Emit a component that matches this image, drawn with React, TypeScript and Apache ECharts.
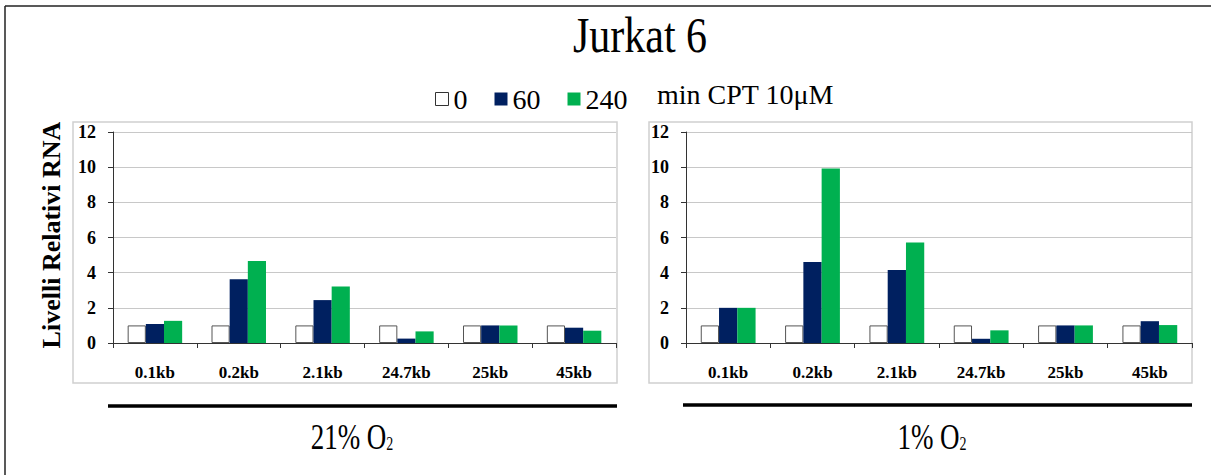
import React, { useEffect, useRef } from "react";
import * as echarts from "echarts";

const categories = ["0.1kb", "0.2kb", "2.1kb", "24.7kb", "25kb", "45kb"];
const seriesNames = ["0", "60", "240"];
const normoxia0 = [1, 1, 1, 1, 1, 1];
const normoxia60 = [1.08, 3.63, 2.44, 0.25, 1.0, 0.87];
const normoxia240 = [1.26, 4.67, 3.21, 0.66, 1.0, 0.7];
const hypoxia0 = [1, 1, 1, 1, 1, 1];
const hypoxia60 = [2.0, 4.6, 4.15, 0.24, 1.0, 1.24];
const hypoxia240 = [2.0, 9.93, 5.72, 0.72, 1.0, 1.02];
const yTicks = { min: 0, max: 12, interval: 2 };
const titleText = "Jurkat 6";
const unitText = "min CPT 10\u03bcM";
const yTitle = "Livelli Relativi RNA";
const panelLabels = ["21% O", "1% O"];

const SERIF = "Liberation Serif";
const COLORS = ["#ffffff", "#002060", "#00b050"];

export default function App() {
  const ref = useRef<HTMLDivElement>(null);
  useEffect(() => {
    if (!ref.current) return;
    const chart = echarts.init(ref.current, null, { renderer: "svg" });

    const grids = [
      { left: 113, top: 132, width: 503, height: 211 },
      { left: 686, top: 132, width: 506, height: 211 },
    ];

    const xAxes = grids.map((_, i) => ({
      type: "category",
      gridIndex: i,
      data: categories,
      axisLine: { lineStyle: { color: "#333", width: 1 } },
      axisTick: { show: true, length: 5, inside: false, lineStyle: { color: "#333" } },
      axisLabel: {
        fontFamily: SERIF,
        fontWeight: "bold",
        fontSize: 17,
        color: "#000",
        margin: 21,
      },
    }));

    const yAxes = grids.map((_, i) => ({
      type: "value",
      gridIndex: i,
      min: yTicks.min,
      max: yTicks.max,
      interval: yTicks.interval,
      axisLine: { show: true, lineStyle: { color: "#333", width: 1 } },
      axisTick: { show: true, length: 5, lineStyle: { color: "#333" } },
      splitLine: { show: true, lineStyle: { color: "#c8c8c8", width: 1.2 } },
      axisLabel: {
        fontFamily: SERIF,
        fontWeight: "bold",
        fontSize: 18,
        color: "#000",
        margin: 17,
      },
    }));

    const panelData = [
      [normoxia0, normoxia60, normoxia240],
      [hypoxia0, hypoxia60, hypoxia240],
    ];

    const series: any[] = [];
    panelData.forEach((sets, gi) => {
      sets.forEach((vals, si) => {
        series.push({
          type: "bar",
          name: seriesNames[si],
          xAxisIndex: gi,
          yAxisIndex: gi,
          data: vals,
          barGap: "0%",
          barCategoryGap: "35%",
          itemStyle: {
            color: COLORS[si],
            borderColor: si === 0 ? "#555" : COLORS[si],
            borderWidth: si === 0 ? 1 : 0,
          },
        });
      });
    });

    const subLabel = (main: string, cx: number) => ({
      type: "text",
      x: cx,
      y: 437,
      scaleY: 1.3,
      style: {
        text: `{a|${main}}{b|2}`,
        align: "center",
        verticalAlign: "middle",
        rich: {
          a: { fontFamily: SERIF, fontSize: 27, fill: "#000", lineHeight: 30 },
          b: { fontFamily: SERIF, fontSize: 14, fill: "#000", lineHeight: 30, padding: [12, 0, 0, 0] },
        },
      },
    });

    chart.setOption({
      animation: false,
      backgroundColor: "#ffffff",
      grid: grids,
      xAxis: xAxes,
      yAxis: yAxes,
      series,
      legend: {
        data: seriesNames.map((n, i) => ({
          name: n,
          itemStyle: {
            color: COLORS[i],
            borderColor: i === 0 ? "#333" : COLORS[i],
            borderWidth: i === 0 ? 1 : 0,
          },
          textStyle: { fontFamily: SERIF, fontSize: 28, color: "#000" },
        })),
        left: 430,
        top: 80,
        icon: "rect",
        itemWidth: 13,
        itemHeight: 13,
        itemGap: 27,
        selectedMode: false,
        textStyle: { fontFamily: SERIF, fontSize: 28, color: "#000" },
      },
      graphic: [
        {
          type: "line",
          shape: { x1: 5, y1: 6, x2: 1211, y2: 6 },
          style: { stroke: "#222", lineWidth: 1.5 },
          silent: true,
        },
        {
          type: "line",
          shape: { x1: 5, y1: 6, x2: 5, y2: 475 },
          style: { stroke: "#222", lineWidth: 1.5 },
          silent: true,
        },
        {
          type: "rect",
          shape: { x: 73, y: 122, width: 544, height: 261 },
          style: { fill: "none", stroke: "#d0d0d0", lineWidth: 1.5 },
          silent: true,
          z: -1,
        },
        {
          type: "rect",
          shape: { x: 649, y: 122, width: 543, height: 261 },
          style: { fill: "none", stroke: "#d0d0d0", lineWidth: 1.5 },
          silent: true,
          z: -1,
        },
        {
          type: "text",
          x: 640,
          y: 35,
          scaleY: 1.2,
          style: {
            text: titleText,
            fontFamily: SERIF,
            fontSize: 42,
            fill: "#000",
            align: "center",
            verticalAlign: "middle",
          },
        },
        {
          type: "text",
          x: 657,
          y: 94,
          style: {
            text: unitText,
            fontFamily: SERIF,
            fontSize: 28,
            fill: "#000",
            align: "left",
            verticalAlign: "middle",
          },
        },
        {
          type: "text",
          x: 51,
          y: 235,
          rotation: Math.PI / 2,
          style: {
            text: yTitle,
            fontFamily: SERIF,
            fontSize: 26,
            fontWeight: "bold",
            fill: "#000",
            align: "center",
            verticalAlign: "middle",
          },
        },
        {
          type: "line",
          shape: { x1: 108, y1: 406, x2: 617, y2: 406 },
          style: { stroke: "#000", lineWidth: 3.5 },
        },
        {
          type: "line",
          shape: { x1: 683, y1: 405, x2: 1192, y2: 405 },
          style: { stroke: "#000", lineWidth: 3.5 },
        },
        subLabel(panelLabels[0], 352),
        subLabel(panelLabels[1], 932),
      ],
    });
    return () => chart.dispose();
  }, []);
  return (
    <div
      ref={ref}
      style={{ position: "absolute", left: 0, top: 0, width: 1211, height: 475, background: "#fff" }}
    />
  );
}
